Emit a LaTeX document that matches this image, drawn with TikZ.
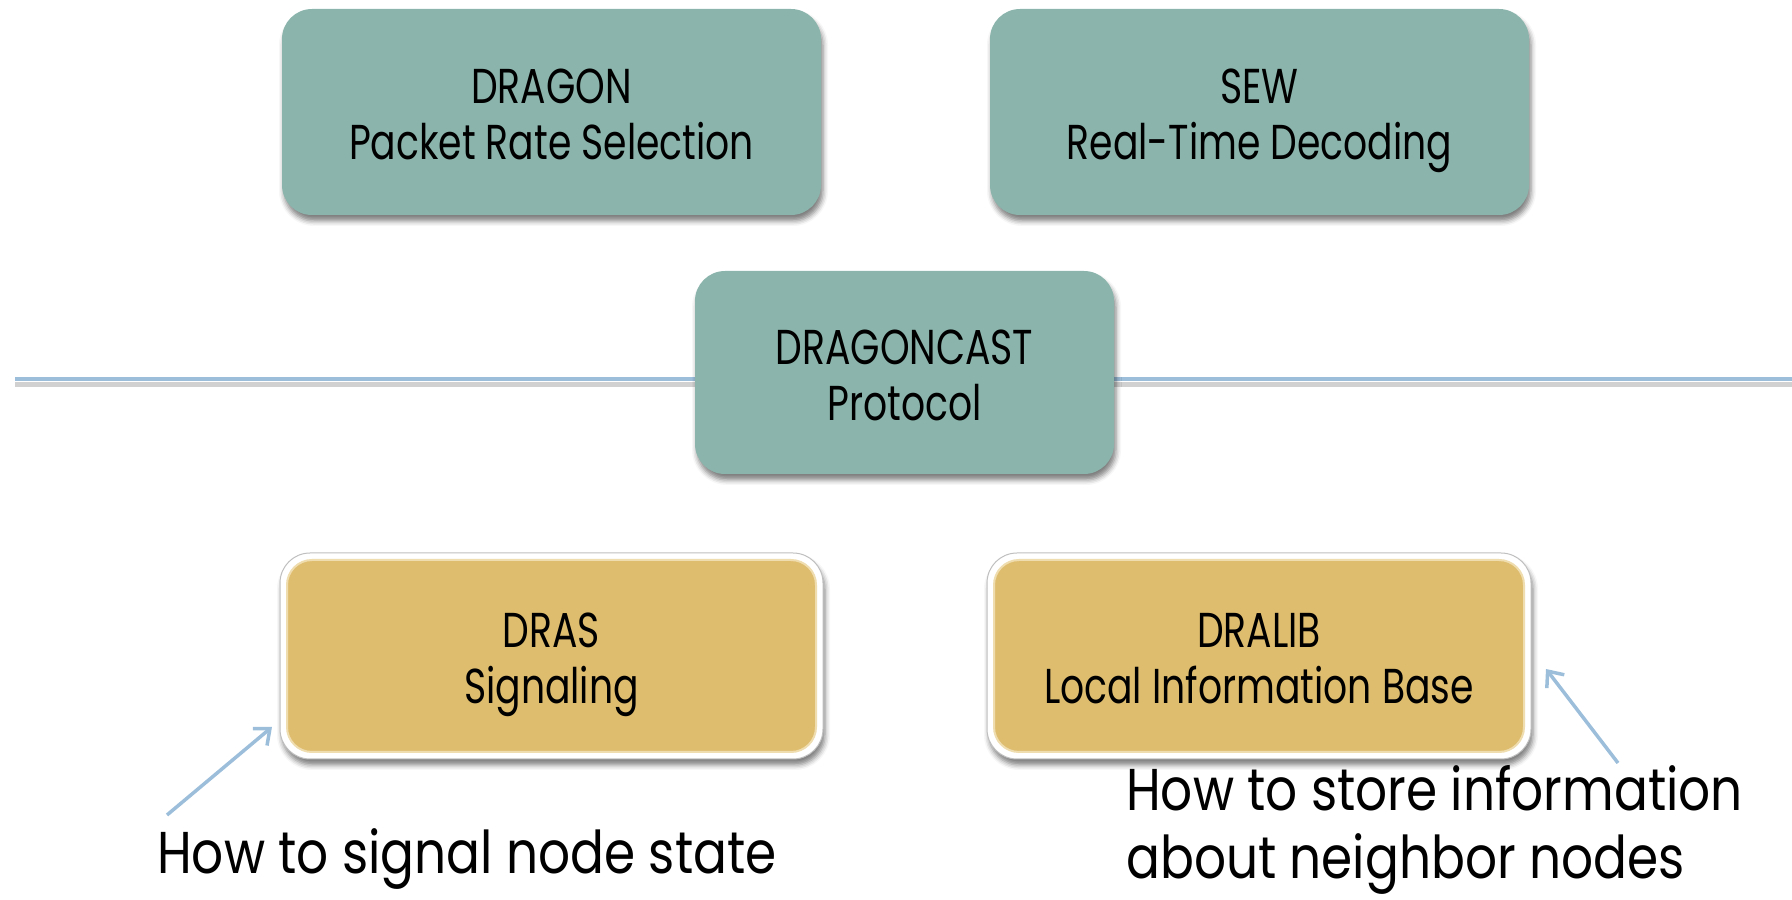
\documentclass[tikz,border=0pt]{standalone}
\usepackage{fontspec}
\newfontfamily\boxfont{Poppins}[FakeStretch=0.77]
\newfontfamily\notefont{Poppins}[FakeStretch=0.85]
\usetikzlibrary{shadows.blur,arrows.meta}
\definecolor{tealbox}{HTML}{8BB5AC}
\definecolor{goldbox}{HTML}{DEBD6F}
\definecolor{goldedge}{HTML}{EFDDB0}
\definecolor{ruleblue}{HTML}{9DBEDB}
% two centred lines with fixed vertical metrics
\newcommand\twolines[2]{\rule{0pt}{57pt}#1\\#2\rule[-17pt]{0pt}{17pt}}
\begin{document}
\begin{tikzpicture}[x=1pt,y=1pt,
  boxtext/.style={align=center, font=\boxfont\fontsize{49}{56}\selectfont, text=black},
  topbox/.style={boxtext, rounded corners=30pt, fill=tealbox, inner sep=0pt,
    minimum width=539pt, minimum height=206pt,
    blur shadow={shadow xshift=2pt, shadow yshift=-6pt, shadow blur radius=5pt, shadow opacity=50}},
  goldframe/.style={boxtext, rounded corners=30pt, fill=white, draw=black!25, line width=1pt,
    inner sep=0pt, minimum width=543pt, minimum height=206pt,
    blur shadow={shadow xshift=2pt, shadow yshift=-6pt, shadow blur radius=5pt, shadow opacity=50},
    path picture={\draw[fill=goldbox, draw=goldedge, line width=2pt, rounded corners=25pt]
      ([shift={(7pt,-7pt)}]path picture bounding box.north west) rectangle
      ([shift={(-7pt,7pt)}]path picture bounding box.south east);}},
  note/.style={font=\notefont\fontsize{59}{68}\selectfont, anchor=base west, inner sep=0pt, align=left},
  pointer/.style={draw=ruleblue, line width=3.5pt, -{Straight Barb[length=13pt,width=22pt,line width=3.5pt]}}
]
\useasboundingbox (0,0) rectangle (1792,900);

% horizontal divider behind the protocol box
\coordinate (ruleL) at (15,521);
\coordinate (ruleR) at (1792,521);
\draw[black!30, line width=5pt, opacity=0.6] ([yshift=-6pt]ruleL) -- ([yshift=-6pt]ruleR);
\draw[ruleblue, line width=4pt] (ruleL) -- (ruleR);

% upper layer
\node[topbox] (dragon) at (551.5,788) {\twolines{DRAGON}{Packet Rate Selection}};
\node[topbox] (sew) at (1259.5,788) {\twolines{SEW}{Real-Time Decoding}};
\node[topbox, minimum width=419pt, minimum height=203pt] (cast) at (904.5,527.5) {\twolines{DRAGONCAST}{Protocol}};

% lower layer
\node[goldframe] (dras) at (551.5,244) {\twolines{DRAS}{Signaling}};
\node[goldframe, minimum width=544pt] (dralib) at (1259,244) {\twolines{DRALIB}{Local Information Base}};

% annotations
\node[note] (signal) at (157,26) {How to signal node state};
\node[note] (store) at (1126,21) {How to store information\\about neighbor nodes};

\coordinate (signalTail) at (167,85);
\coordinate (signalTip) at (272,173);
\coordinate (storeTail) at (1618,137);
\coordinate (storeTip) at (1546,231);
\draw[pointer] (signalTail) -- (signalTip);
\draw[pointer] (storeTail) -- (storeTip);
\end{tikzpicture}
\end{document}
